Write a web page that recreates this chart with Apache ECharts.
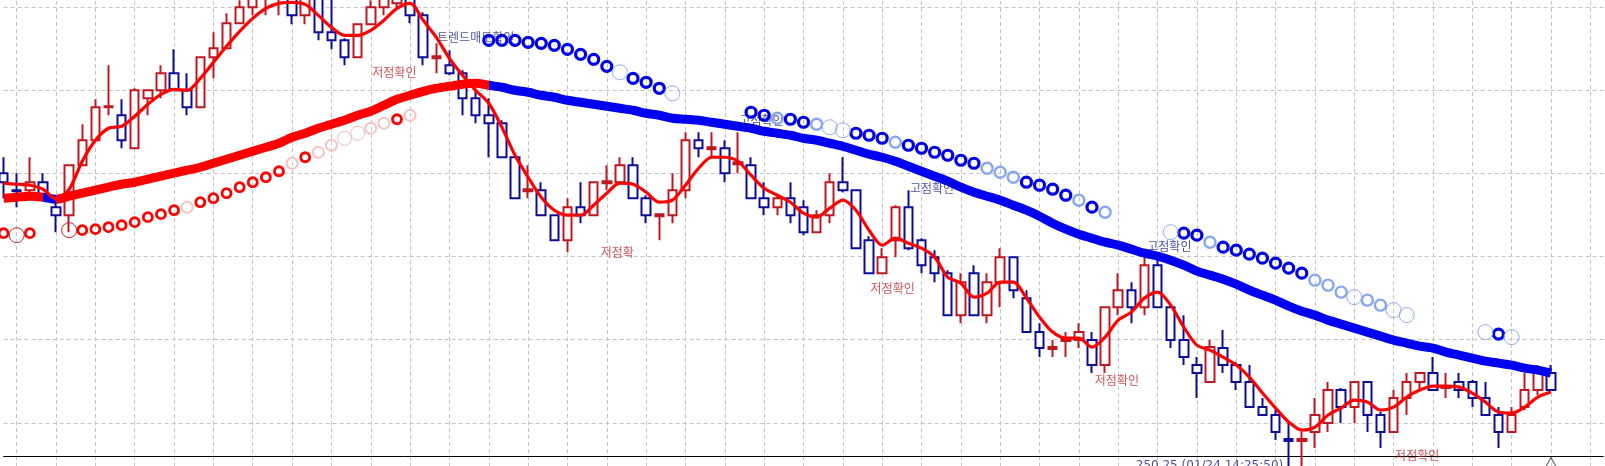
<!DOCTYPE html>
<html><head><meta charset="utf-8">
<script src="https://cdn.jsdelivr.net/npm/echarts@6/dist/echarts.min.js"></script>
<style>html,body{margin:0;padding:0;background:#fff;overflow:hidden;width:1605px;height:466px;position:relative}#c{position:absolute;left:0;top:-76px;width:1605px;height:582px}</style>
</head><body><div id="c"></div>
<script>
// ---- data (price units) ----
const categories = Array.from({length: 123}, (_, i) => String(i + 1));
const openV = [
 333,316,316,324,299,291,341,366,399,391,
 358,408,416,433,416,399,449,458,483,499,
 511,509,511,491,511,474,466,449,482,499,
 503,509,491,448,441,433,408,391,383,349,
 315,316,291,266,299,291,323,324,341,308,
 290,291,316,366,357,358,342,341,308,299,
 308,299,274,291,324,316,266,233,266,299,
 266,249,233,191,233,191,224,249,208,174,
 157,165,166,166,141,199,216,199,241,199,
 166,141,124,158,141,124,99,91,67,65,
 74,83,116,99,124,91,74,108,124,133,
 118,124,124,108,91,74,99,116,133];
const closeV = [
 324,315,324,308,291,341,366,399,400,366,
 416,416,433,416,399,449,458,483,499,514,
 521,518,491,511,474,466,449,482,499,511,
 516,491,449,450,433,408,391,383,349,308,
 317,291,266,299,291,324,325,341,308,291,
 292,316,366,358,359,333,344,308,299,308,
 291,274,291,324,316,258,233,249,299,258,
 241,233,191,224,191,224,249,216,174,158,
 159,167,174,141,199,216,199,241,199,166,
 149,133,159,141,124,99,91,74,65,67,
 91,116,99,124,91,74,108,124,133,116,
 120,116,108,91,74,91,116,133,116];
const lowV = [
 308,299,314,306,274,274,341,365,391,358,
 358,391,408,416,391,399,428,458,483,491,
 491,491,482,482,466,457,441,449,482,491,
 498,483,441,433,431,391,383,349,349,308,
 308,291,266,254,283,291,316,324,308,283,
 266,283,308,349,349,324,333,308,291,291,
 283,271,273,283,314,258,233,233,249,256,
 233,224,191,183,191,183,199,208,174,149,
 149,149,158,133,133,191,183,191,199,158,
 141,108,124,133,116,99,91,66,26,31,
 58,74,83,83,74,58,74,91,116,116,
 108,108,99,91,58,74,96,111,116];
const highV = [
 349,333,349,333,311,341,382,407,441,407,
 418,416,441,457,433,449,474,493,506,518,
 526,524,516,516,514,511,468,482,506,516,
 521,514,494,463,456,436,416,408,386,349,
 341,324,291,308,324,324,341,349,349,311,
 292,333,374,374,374,366,374,349,324,311,
 324,306,296,333,349,316,270,258,301,316,
 268,256,236,233,241,233,258,249,216,183,
 166,174,183,174,199,233,224,249,249,201,
 191,149,166,176,144,141,108,96,83,74,
 108,124,118,124,124,94,116,133,133,149,
 133,133,126,124,99,99,133,141,141];
const maFast = [
 323,322,321,317,307,317,345,366,378,380,
 390,402,412,417,416,428,444,460,475,488,
 498,503,504,502,491,479,471,471,476,486,
 498,503,486,469,448,431,416,403,379,351,
 329,309,296,291,291,301,313,323,322,314,
 304,306,321,338,349,349,345,331,318,311,
 304,293,289,298,306,296,276,261,268,263,
 258,249,229,223,209,213,224,224,208,189,
 174,168,168,159,169,186,194,208,214,201,
 179,161,156,149,141,129,113,98,84,76,
 79,91,98,106,104,96,99,109,116,120,
 120,119,113,104,94,93,99,109,114];
const maSlow = [
 308,309,310,309,307,310,313,316,319,322,
 324,327,330,333,336,339,343,347,351,355,
 359,363,369,373,378,382,386,391,395,401,
 407,411,415,418,420,422,423,421,419,416,
 414,411,409,406,404,402,400,398,396,393,
 391,388,387,386,384,382,380,378,375,373,
 371,368,366,363,360,356,352,349,345,340,
 335,330,325,319,314,310,306,301,296,290,
 283,277,272,268,264,261,257,253,250,246,
 241,235,231,227,222,216,211,206,200,195,
 191,186,182,178,174,170,166,163,160,158,
 154,151,148,145,143,141,138,136,133];
// colour change points of the slow average (category index)
const maSlowTurns = [2.6, 3.9, 36.7];
// trailing stop markers: value and kind per candle (R = lower/red, B = upper/blue;
// B = bold, L = light, T = thin, D = dark thin)
const sarVal = [
 273,271,273,null,null,276,276,277,279,281,
 284,289,292,296,299,304,308,313,319,324,
 329,335,343,349,354,361,368,373,378,383,
 387,391,null,null,null,null,null,466,466,466,
 464,463,461,457,452,447,440,434,428,424,
 418,413,null,null,null,null,null,394,391,388,
 387,384,382,379,376,373,371,368,364,361,
 358,354,351,346,343,338,334,329,324,321,
 317,311,306,299,294,null,null,null,null,274,
 273,271,264,259,256,252,248,243,238,233,
 226,221,214,209,206,201,196,191,null,null,
 null,null,null,174,172,169,null,null,null];
const sarKind = [
 'RB','RD','RB','','','RD','RB','RB','RB','RB',
 'RB','RB','RB','RB','RL','RB','RB','RB','RB','RB',
 'RB','RB','RL','RB','RL','RL','RT','RT','RL','RL',
 'RB','RL','','','','','','BB','BB','BB',
 'BB','BB','BB','BB','BB','BB','BB','BT','BB','BB',
 'BB','BT','','','','','','BB','BB','BL',
 'BB','BB','BL','BT','BT','BB','BB','BB','BL','BB',
 'BB','BB','BB','BB','BB','BL','BL','BL','BB','BB',
 'BB','BB','BL','BB','BL','','','','','BT',
 'BB','BB','BL','BB','BB','BB','BB','BB','BB','BB',
 'BL','BL','BL','BT','BL','BL','BT','BT','','',
 '','','','BT','BB','BT','','',''];
const labelText = ['저점확인','트렌드매도확인','저점확','고점확인','고점확인','저점확인','고점확인','저점확인','저점확인'];
const labelX = [29.8, 36.0, 46.8, 57.8, 70.8, 67.8, 88.9, 84.9, 107.8];
const labelY = [434, 469, 254, 386, 318, 218, 260, 126, 51];
const labelKind = ['low','high','low','high','high','low','high','low','low'];
const lastPriceText = '250.25 (01/24 14:25:50)';
const lastPriceX = 86.3, lastPriceY = 40;
const markerX = 118, markerY = 44;

// ---- build ----
const RED = '#ff0000', BLUE = '#0000f0';
const candleData = openV.map((o, i) => [o, closeV[i], lowV[i], highV[i]]);
const sarStyles = {
  RB: {color: '#ff0000', size: 9, width: 2.8},
  RL: {color: '#f6c2c2', size: 11, width: 2},
  RT: {color: '#f2b8b8', size: 14, width: 1},
  RD: {color: '#b83030', size: 15, width: 1},
  BB: {color: '#0000e6', size: 10, width: 3.2},
  BL: {color: '#88a8ee', size: 11, width: 2.4},
  BT: {color: '#90b0e8', size: 15, width: 1}
};
const sarSeries = Object.keys(sarStyles).map(k => {
  const s = sarStyles[k];
  const data = [];
  sarVal.forEach((v, i) => { if (v != null && sarKind[i] === k) data.push([i, v]); });
  return {
    type: 'scatter', xAxisIndex: 0, yAxisIndex: 0, z: 6, silent: true,
    symbol: 'circle', symbolSize: s.size, clip: false,
    itemStyle: {color: 'rgba(0,0,0,0)', borderColor: s.color, borderWidth: s.width, opacity: 1},
    data
  };
});
const labelColors = {low: '#c42a2e', high: '#1e1e82'};
const labelData = labelText.map((t, i) => ({
  value: [labelX[i], labelY[i]], name: t,
  label: {color: labelColors[labelKind[i]]}
}));

const chart = echarts.init(document.getElementById('c'), null, {renderer: 'canvas', width: 1605, height: 582});
chart.setOption({
  animation: false,
  backgroundColor: '#ffffff',
  grid: {left: 3.6, right: 1.6, top: 0, bottom: 0, containLabel: false},
  xAxis: [{
    type: 'category', data: categories, boundaryGap: false, offset: -50,
    axisLine: {show: true, onZero: false, lineStyle: {color: '#000', width: 1}},
    axisTick: {show: false}, axisLabel: {show: false},
    splitLine: {show: true, interval: (idx) => idx % 3 === 1,
      lineStyle: {color: '#c4c4c4', width: 1, type: [4, 3]}}
  }, {
    type: 'value', min: 0, max: 122, show: false, splitLine: {show: false}
  }],
  yAxis: [{
    type: 'value', min: 0, max: 582.4, interval: 83.2, scale: false,
    axisLine: {show: false}, axisTick: {show: false}, axisLabel: {show: false},
    splitLine: {show: true, lineStyle: {color: '#c4c4c4', width: 1, type: [4, 3]}}
  }],
  visualMap: [{
    type: 'piecewise', show: false, dimension: 0, seriesIndex: 1,
    pieces: [
      {lt: maSlowTurns[0], color: RED},
      {gte: maSlowTurns[0], lt: maSlowTurns[1], color: BLUE},
      {gte: maSlowTurns[1], lt: maSlowTurns[2], color: RED},
      {gte: maSlowTurns[2], color: BLUE}
    ]
  }],
  series: [
    {
      type: 'candlestick', data: candleData, barWidth: 9, clip: false, z: 2, silent: true,
      itemStyle: {color: '#ffffff', color0: '#ffffff', borderColor: '#c01820', borderColor0: '#0c0c98', borderWidth: 2}
    },
    {
      type: 'line', data: maSlow, smooth: 0.3, symbol: 'none', clip: false, z: 3, silent: true,
      lineStyle: {width: 9}
    },
    {
      type: 'line', data: maFast, smooth: 0.3, symbol: 'none', clip: false, z: 4, silent: true,
      lineStyle: {width: 3.2, color: RED}
    },
    {
      type: 'scatter', xAxisIndex: 1, yAxisIndex: 0, data: labelData, z: 5, silent: true,
      symbol: 'circle', symbolSize: 1, clip: false,
      itemStyle: {color: 'rgba(0,0,0,0)'},
      label: {show: true, position: 'inside', formatter: p => p.name,
        fontFamily: '"Noto Sans CJK KR", "Noto Sans", sans-serif', fontSize: 12}
    },
    {
      type: 'scatter', xAxisIndex: 1, yAxisIndex: 0, z: 5, silent: true, clip: false,
      symbol: 'circle', symbolSize: 1, itemStyle: {color: 'rgba(0,0,0,0)'},
      data: [{value: [lastPriceX, lastPriceY], name: lastPriceText}],
      label: {show: true, position: 'right', distance: 0, formatter: p => p.name, color: '#1a1a8a',
        fontFamily: '"DejaVu Sans", sans-serif', fontSize: 12}
    },
    {
      type: 'scatter', xAxisIndex: 0, yAxisIndex: 0, z: 5, silent: true, clip: false,
      symbol: 'triangle', symbolSize: [10, 9],
      itemStyle: {color: 'rgba(0,0,0,0)', borderColor: '#333', borderWidth: 1},
      data: [[markerX, markerY]]
    },
    ...sarSeries
  ]
});
</script>
</body></html>
